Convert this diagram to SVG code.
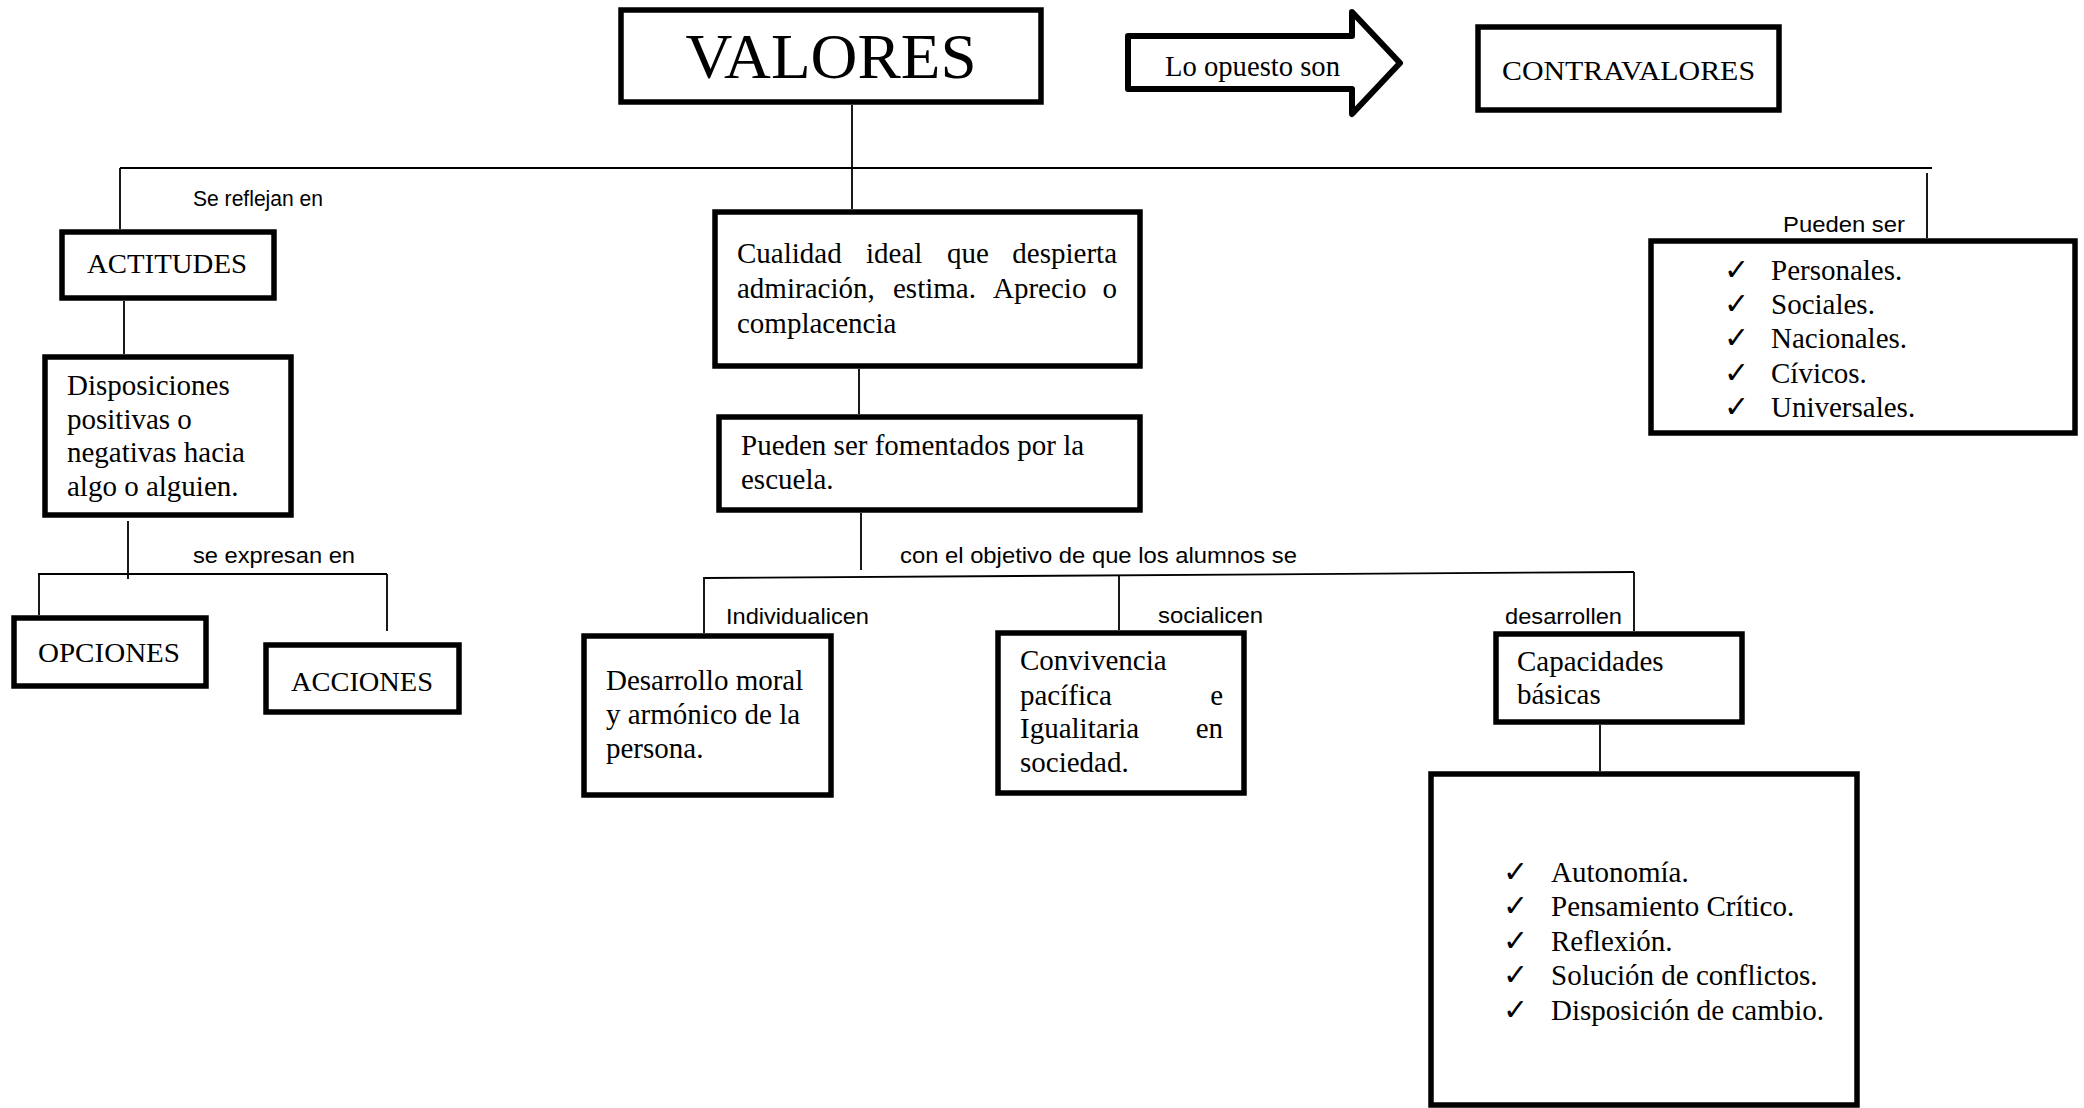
<svg xmlns="http://www.w3.org/2000/svg" width="2084" height="1108" viewBox="0 0 2084 1108">
<style>
.box{fill:#fff;stroke:#000;stroke-width:5.5}
.ln{fill:none;stroke:#000;stroke-width:1.8}
.t{font-family:"Liberation Serif","Times New Roman",serif;font-size:29px;fill:#000}
.t28{font-size:28px}
.big{font-size:63px}
.s{font-family:"Liberation Sans",Arial,sans-serif;font-size:22px;fill:#000}
.ck{font-family:"DejaVu Sans",sans-serif;font-size:30px;fill:#000}
</style>
<rect width="2084" height="1108" fill="#fff"/>
<g id="connectors">
<line class="ln" x1="852" y1="105" x2="852" y2="209"/>
<line class="ln" x1="120" y1="168" x2="1932" y2="168"/>
<line class="ln" x1="120" y1="168" x2="120" y2="229"/>
<line class="ln" x1="1927" y1="173" x2="1927" y2="238"/>
<line class="ln" x1="124" y1="301" x2="124" y2="354"/>
<line class="ln" x1="128" y1="521" x2="128" y2="579"/>
<line class="ln" x1="38" y1="574" x2="387" y2="574"/>
<line class="ln" x1="39" y1="574" x2="39" y2="615"/>
<line class="ln" x1="387" y1="574" x2="387" y2="631"/>
<line class="ln" x1="859" y1="369" x2="859" y2="414"/>
<line class="ln" x1="861" y1="513" x2="861" y2="570"/>
<line class="ln" x1="705" y1="578" x2="1634" y2="572"/>
<line class="ln" x1="704" y1="577" x2="704" y2="633"/>
<line class="ln" x1="1119" y1="575" x2="1119" y2="630"/>
<line class="ln" x1="1634" y1="572" x2="1634" y2="631"/>
<line class="ln" x1="1600" y1="725" x2="1600" y2="771"/>
<text class="s" x="193" y="206" textLength="130" lengthAdjust="spacingAndGlyphs">Se reflejan en</text>
<text class="s" x="193" y="563" textLength="162" lengthAdjust="spacingAndGlyphs">se expresan en</text>
<text class="s" x="900" y="563" textLength="397" lengthAdjust="spacingAndGlyphs">con el objetivo de que los alumnos se</text>
<text class="s" x="726" y="624" textLength="143" lengthAdjust="spacingAndGlyphs">Individualicen</text>
<text class="s" x="1158" y="623" textLength="105" lengthAdjust="spacingAndGlyphs">socialicen</text>
<text class="s" x="1505" y="624" textLength="117" lengthAdjust="spacingAndGlyphs">desarrollen</text>
<text class="s" x="1783" y="232" textLength="122" lengthAdjust="spacingAndGlyphs">Pueden ser</text>
</g>
<g id="valores">
<rect class="box" x="621" y="10" width="420" height="92"/>
<text class="t big" x="831" y="78" text-anchor="middle" textLength="291" lengthAdjust="spacingAndGlyphs">VALORES</text>
</g>
<g id="arrow">
<path d="M1128,36 L1352,36 L1352,12 L1400,63 L1352,114 L1352,89 L1128,89 Z" fill="#fff" stroke="#000" stroke-width="6" stroke-linejoin="round"/>
<text class="t" x="1165" y="76" textLength="175" lengthAdjust="spacingAndGlyphs">Lo opuesto son</text>
</g>
<g id="contravalores">
<rect class="box" x="1478" y="27" width="301" height="83"/>
<text class="t t28" x="1502" y="80" textLength="253" lengthAdjust="spacingAndGlyphs">CONTRAVALORES</text>
</g>
<g id="actitudes">
<rect class="box" x="62" y="232" width="212" height="66"/>
<text class="t t28" x="87" y="273" textLength="160" lengthAdjust="spacingAndGlyphs">ACTITUDES</text>
</g>
<g id="disposiciones">
<rect class="box" x="45" y="357" width="246" height="158"/>
<text class="t" x="67" y="395">Disposiciones</text>
<text class="t" x="67" y="429">positivas o</text>
<text class="t" x="67" y="462">negativas hacia</text>
<text class="t" x="67" y="496">algo o alguien.</text>
</g>
<g id="opciones">
<rect class="box" x="14" y="618" width="192" height="68"/>
<text class="t t28" x="38" y="662" textLength="142" lengthAdjust="spacingAndGlyphs">OPCIONES</text>
</g>
<g id="acciones">
<rect class="box" x="266" y="645" width="193" height="67"/>
<text class="t t28" x="291" y="691" textLength="142" lengthAdjust="spacingAndGlyphs">ACCIONES</text>
</g>
<g id="cualidad">
<rect class="box" x="715" y="212" width="425" height="154"/>
<text class="t" y="263"><tspan x="737">Cualidad</tspan><tspan x="866">ideal</tspan><tspan x="947">que</tspan><tspan x="1117" text-anchor="end">despierta</tspan></text>
<text class="t" y="298"><tspan x="737">admiración,</tspan><tspan x="893">estima.</tspan><tspan x="993">Aprecio</tspan><tspan x="1117" text-anchor="end">o</tspan></text>
<text class="t" x="737" y="333">complacencia</text>
</g>
<g id="fomentados">
<rect class="box" x="719" y="417" width="421" height="93"/>
<text class="t" x="741" y="455">Pueden ser fomentados por la</text>
<text class="t" x="741" y="489">escuela.</text>
</g>
<g id="desarrollo">
<rect class="box" x="584" y="636" width="247" height="159"/>
<text class="t" x="606" y="690">Desarrollo moral</text>
<text class="t" x="606" y="724">y armónico de la</text>
<text class="t" x="606" y="758">persona.</text>
</g>
<g id="convivencia">
<rect class="box" x="998" y="633" width="246" height="160"/>
<text class="t" x="1020" y="670">Convivencia</text>
<text class="t" y="705"><tspan x="1020">pacífica</tspan><tspan x="1223" text-anchor="end">e</tspan></text>
<text class="t" y="738"><tspan x="1020">Igualitaria</tspan><tspan x="1223" text-anchor="end">en</tspan></text>
<text class="t" x="1020" y="772">sociedad.</text>
</g>
<g id="capacidades">
<rect class="box" x="1496" y="634" width="246" height="88"/>
<text class="t" x="1517" y="671">Capacidades</text>
<text class="t" x="1517" y="704">básicas</text>
</g>
<g id="lista-capacidades">
<rect class="box" x="1431" y="774" width="426" height="331"/>
<text class="ck" x="1503" y="882">✓</text>
<text class="ck" x="1503" y="916">✓</text>
<text class="ck" x="1503" y="951">✓</text>
<text class="ck" x="1503" y="985">✓</text>
<text class="ck" x="1503" y="1020">✓</text>
<text class="t" x="1551" y="882">Autonomía.</text>
<text class="t" x="1551" y="916">Pensamiento Crítico.</text>
<text class="t" x="1551" y="951">Reflexión.</text>
<text class="t" x="1551" y="985">Solución de conflictos.</text>
<text class="t" x="1551" y="1020">Disposición de cambio.</text>
</g>
<g id="tipos">
<rect class="box" x="1651" y="241" width="424" height="192"/>
<text class="ck" x="1724" y="280">✓</text>
<text class="ck" x="1724" y="314">✓</text>
<text class="ck" x="1724" y="348">✓</text>
<text class="ck" x="1724" y="383">✓</text>
<text class="ck" x="1724" y="417">✓</text>
<text class="t" x="1771" y="280">Personales.</text>
<text class="t" x="1771" y="314">Sociales.</text>
<text class="t" x="1771" y="348">Nacionales.</text>
<text class="t" x="1771" y="383">Cívicos.</text>
<text class="t" x="1771" y="417">Universales.</text>
</g>
</svg>
